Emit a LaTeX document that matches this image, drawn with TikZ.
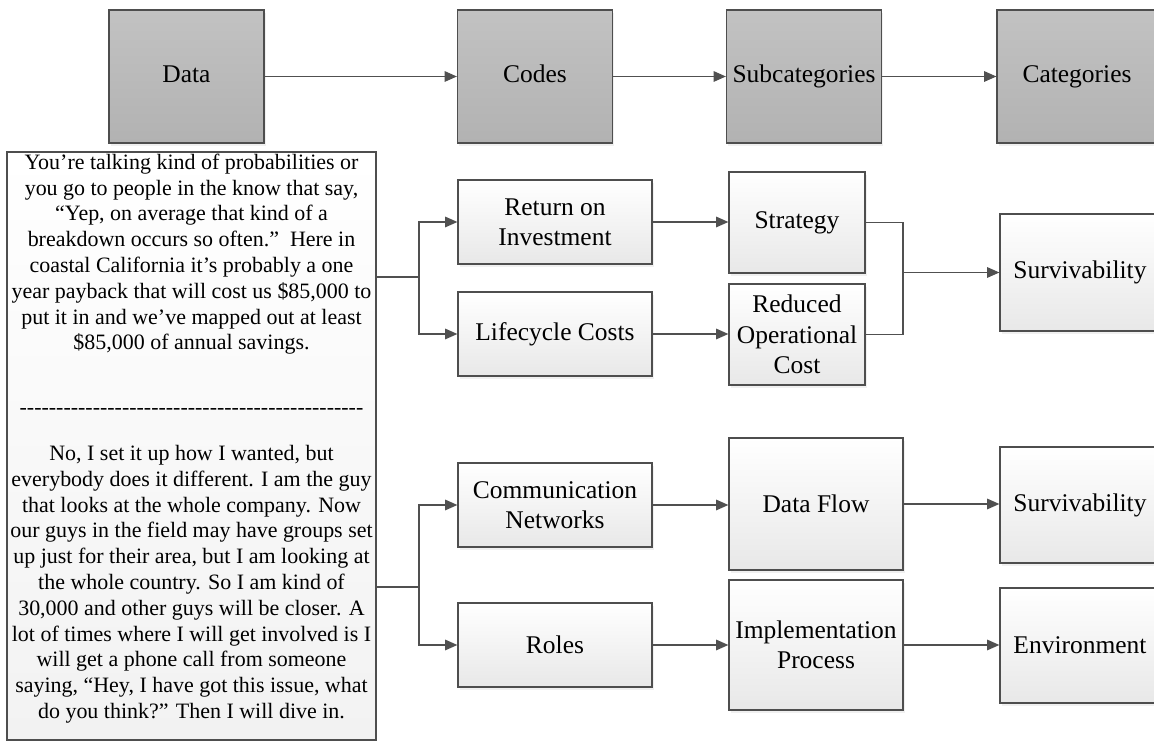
\documentclass[tikz,border=0pt]{standalone}
\usepackage{fontspec}
\setmainfont{Liberation Serif}
\usetikzlibrary{arrows.meta, shadows}
\definecolor{boxline}{RGB}{78,78,78}
\definecolor{linkline}{RGB}{80,80,80}
\definecolor{headtop}{RGB}{194,194,194}
\definecolor{headbottom}{RGB}{178,178,178}
\definecolor{palebottom}{RGB}{232,232,232}
\definecolor{quotebottom}{RGB}{242,242,242}
\newcommand{\labelsize}{\fontsize{14.5}{17.3}\selectfont}
\newcommand{\quotesize}{\fontsize{12.5}{14.68}\selectfont}
\newcommand{\dashrow}{\foreach \k in {1,...,47}{\mbox{-}}}

\begin{document}
\begin{tikzpicture}[x=0.02cm,y=-0.02cm,>={Triangle[length=7pt,width=6pt]},
    headbox/.style={draw=boxline,line width=0.7pt,top color=headtop,bottom color=headbottom,
        drop shadow={shadow xshift=1pt,shadow yshift=-1.5pt,opacity=0.12},
        minimum width=3.1cm,minimum height=2.66cm,inner xsep=2pt,
        text height=0.92em,text depth=0.25em,font=\labelsize},
    codebox/.style={draw=boxline,line width=0.7pt,top color=white,bottom color=palebottom,
        drop shadow={shadow xshift=1pt,shadow yshift=-1.5pt,opacity=0.12},
        align=center,inner xsep=2pt,font=\labelsize},
    quotebox/.style={draw=boxline,line width=0.7pt,top color=white,bottom color=quotebottom},
    quotetext/.style={align=center,inner sep=0pt,font=\quotesize},
    link/.style={draw=linkline,line width=0.75pt}]

        % keep the page to the size of the original
        \useasboundingbox (0,0) rectangle (1154,742);

        % top row: the steps of the coding
        \node[headbox] (data)   at (186.5,76.5) {Data};
        \node[headbox] (codes)  at (535,76.5)   {Codes};
        \node[headbox] (subcat) at (804,76.5)   {Subcategories};
        \node[headbox,minimum width=3.2cm] (categ) at (1077,76.5) {Categories};
        \foreach \a/\b in {data/codes, codes/subcat, subcat/categ}
            \draw[link,->] (\a) -- (\b);

        % the two quotes
        \node[quotebox,minimum width=7.38cm,minimum height=11.76cm] (talk) at (191.5,446) {};
        \node[quotetext,anchor=north] (talktext) at (191.5,153.5) {%
            You’re talking kind of probabilities or\\
            you go to people in the know that say,\\
            “Yep, on average that kind of a\\
            breakdown occurs so often.”\ \ Here in\\
            coastal California it’s probably a one\\
            year payback that will cost us \$85,000 to\\
            put it in and we’ve mapped out at least\\
            \$85,000 of annual savings.\\[22pt]
            \dashrow\\[11.6pt]
            No, I set it up how I wanted, but\\
            everybody does it different. I am the guy\\
            that looks at the whole company. Now\\
            our guys in the field may have groups set\\
            up just for their area, but I am looking at\\
            the whole country. So I am kind of\\
            30,000 and other guys will be closer. A\\
            lot of times where I will get involved is I\\
            will get a phone call from someone\\
            saying, “Hey, I have got this issue, what\\
            do you think?” Then I will dive in.};

        % first quote: codes, subcategories and category
        \node[codebox,minimum width=3.88cm,minimum height=1.68cm] (roi)  at (555,222) {Return on\\Investment};
        \node[codebox,minimum width=3.88cm,minimum height=1.68cm] (life) at (555,334) {Lifecycle Costs};
        \node[codebox,minimum width=2.72cm,minimum height=2.02cm] (strat) at (797,222.5) {Strategy};
        \node[codebox,minimum width=2.72cm,minimum height=2.02cm] (roc)   at (797,334.5) {Reduced\\Operational\\Cost};
        \node[codebox,minimum width=3.2cm,minimum height=2.34cm] (surv1) at (1080,272.5) {Survivability};

        \coordinate (fork1) at (419,277);
        \draw[link] (talk.east |- fork1) -- (fork1);
        \draw[link,->] (fork1) |- (roi);
        \draw[link,->] (fork1) |- (life);
        \draw[link,->] (roi) -- (roi -| strat.west);
        \draw[link,->] (life) -- (life -| roc.west);
        \coordinate (join1) at (903,272.5);
        \draw[link] (strat) -| (join1);
        \draw[link] (roc) -| (join1);
        \draw[link,->] (join1) -- (surv1);

        % second quote
        \node[codebox,minimum width=3.88cm,minimum height=1.68cm] (comm)  at (555,505) {Communication\\Networks};
        \node[codebox,minimum width=3.88cm,minimum height=1.68cm] (roles) at (555,645) {Roles};
        \node[codebox,minimum width=3.48cm,minimum height=2.64cm] (dflow) at (816,504) {Data Flow};
        \node[codebox,minimum width=3.48cm,minimum height=2.6cm]  (impl)  at (816,645) {Implementation\\Process};
        \node[codebox,minimum width=3.2cm,minimum height=2.32cm] (surv2) at (1080,505) {Survivability};
        \node[codebox,minimum width=3.2cm,minimum height=2.3cm]  (env)   at (1080,645.5) {Environment};

        \coordinate (fork2) at (419,587);
        \draw[link] (talk.east |- fork2) -- (fork2);
        \draw[link,->] (fork2) |- (comm);
        \draw[link,->] (fork2) |- (roles);
        \foreach \a/\b in {comm/dflow, roles/impl, dflow/surv2, impl/env}
            \draw[link,->] (\a) -- (\a -| \b.west);
\end{tikzpicture}
\end{document}
